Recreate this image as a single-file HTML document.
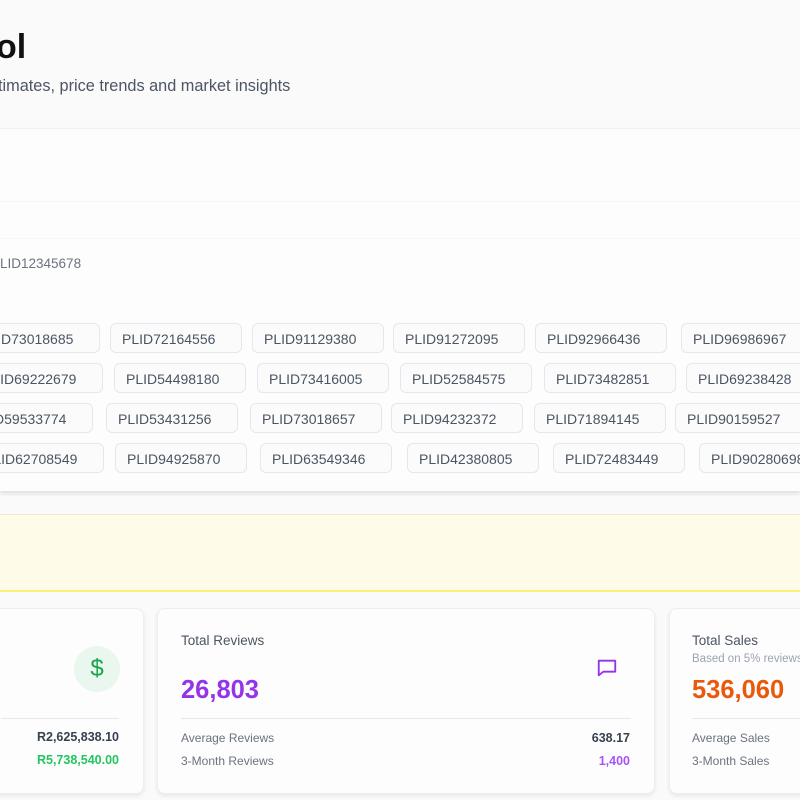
<!DOCTYPE html>
<html><head><meta charset="utf-8"><style>
body{margin:0;width:800px;height:800px;overflow:hidden;background:#fafafa;font-family:"Liberation Sans",sans-serif;position:relative}
.a{position:absolute}
.chip{position:absolute;height:30px;border:1px solid #e5e7eb;border-radius:6px;background:#fbfbfb;color:#4b5563;font-size:14px;line-height:30px;box-sizing:border-box;padding-left:11px;width:132px;white-space:nowrap}
.card{position:absolute;background:#fdfdfd;border:1px solid #eceef0;border-radius:8px;box-shadow:0 2px 4px rgba(0,0,0,.08)}
.lab{font-size:13.5px;color:#4b5563}
.sm{font-size:12px;color:#6b7280}
</style></head><body>
<div class="a" style="left:-4px;top:28px;font-size:34px;font-weight:bold;color:#111">ol</div>
<div class="a" style="left:-2px;top:77px;font-size:16.3px;color:#4b5563">timates, price trends and market insights</div>
<div class="a" style="left:0;top:128px;width:800px;height:1px;background:#eef0f3"></div>
<div class="a" style="left:0;top:129px;width:800px;height:362px;background:#fdfdfd;box-shadow:0 3px 4px rgba(0,0,0,.1)"></div>
<div class="a" style="left:0;top:201px;width:800px;height:1px;background:#f5f6f7"></div>
<div class="a" style="left:0;top:238px;width:800px;height:1px;background:#f7f7f8"></div>
<div class="a" style="left:0;top:256px;font-size:13.5px;color:#6b7280">LID12345678</div>

<div class="chip" style="left:-32px;top:323px">PLID73018685</div>
<div class="chip" style="left:110px;top:323px">PLID72164556</div>
<div class="chip" style="left:252px;top:323px">PLID91129380</div>
<div class="chip" style="left:393px;top:323px">PLID91272095</div>
<div class="chip" style="left:535px;top:323px">PLID92966436</div>
<div class="chip" style="left:681px;top:323px">PLID96986967</div>

<div class="chip" style="left:-29px;top:363px">PLID69222679</div>
<div class="chip" style="left:114px;top:363px">PLID54498180</div>
<div class="chip" style="left:257px;top:363px">PLID73416005</div>
<div class="chip" style="left:400px;top:363px">PLID52584575</div>
<div class="chip" style="left:544px;top:363px">PLID73482851</div>
<div class="chip" style="left:686px;top:363px">PLID69238428</div>

<div class="chip" style="left:-39px;top:403px">PLID59533774</div>
<div class="chip" style="left:106px;top:403px">PLID53431256</div>
<div class="chip" style="left:250px;top:403px">PLID73018657</div>
<div class="chip" style="left:391px;top:403px">PLID94232372</div>
<div class="chip" style="left:534px;top:403px">PLID71894145</div>
<div class="chip" style="left:675px;top:403px">PLID90159527</div>

<div class="chip" style="left:-28px;top:443px">PLID62708549</div>
<div class="chip" style="left:115px;top:443px">PLID94925870</div>
<div class="chip" style="left:260px;top:443px">PLID63549346</div>
<div class="chip" style="left:407px;top:443px">PLID42380805</div>
<div class="chip" style="left:553px;top:443px">PLID72483449</div>
<div class="chip" style="left:699px;top:443px">PLID90280698</div>

<div class="a" style="left:0;top:514px;width:800px;height:75px;background:#fefbe8;border-top:1px solid #f5e6c8;border-bottom:2px solid #fdf07a"></div>

<div class="card" style="left:-10px;top:608px;width:152px;height:184px">
 <div class="a" style="left:83px;top:37px;width:46px;height:46px;border-radius:50%;background:#eaf7ee;color:#16a34a;font-size:24px;text-align:center;line-height:46px">$</div>
 <div class="a" style="left:10px;top:109px;width:118px;height:1px;background:#e5e7eb"></div>
 <div class="a" style="right:24px;top:121px;font-size:12.5px;font-weight:bold;color:#374151">R2,625,838.10</div>
 <div class="a" style="right:24px;top:144px;font-size:12.5px;font-weight:bold;color:#22c55e">R5,738,540.00</div>
</div>
<div class="card" style="left:157px;top:608px;width:496px;height:184px">
 <div class="a lab" style="left:23px;top:24px">Total Reviews</div>
 <div class="a" style="left:23px;top:67px;font-size:25.5px;font-weight:bold;color:#9333ea">26,803</div>
 <svg class="a" style="left:438px;top:48px" width="22" height="22" viewBox="0 0 24 24" fill="none" stroke="#9333ea" stroke-width="2" stroke-linejoin="round"><path d="M3 4h18v12H8l-5 4z"/></svg>
 <div class="a" style="left:23px;top:109px;width:450px;height:1px;background:#e5e7eb"></div>
 <div class="a sm" style="left:23px;top:122px">Average Reviews</div>
 <div class="a" style="right:24px;top:122px;font-size:12.5px;font-weight:bold;color:#374151">638.17</div>
 <div class="a sm" style="left:23px;top:145px">3-Month Reviews</div>
 <div class="a" style="right:24px;top:145px;font-size:12.5px;font-weight:bold;color:#a855f7">1,400</div>
</div>
<div class="card" style="left:669px;top:608px;width:160px;height:184px">
 <div class="a lab" style="left:22px;top:24px">Total Sales</div>
 <div class="a" style="left:22px;top:44px;font-size:11.5px;color:#9ca3af;white-space:nowrap">Based on 5% reviews</div>
 <div class="a" style="left:22px;top:67px;font-size:25.5px;font-weight:bold;color:#ea580c">536,060</div>
 <div class="a" style="left:22px;top:109px;width:140px;height:1px;background:#e5e7eb"></div>
 <div class="a sm" style="left:22px;top:122px">Average Sales</div>
 <div class="a sm" style="left:22px;top:145px">3-Month Sales</div>
</div>
</body></html>
